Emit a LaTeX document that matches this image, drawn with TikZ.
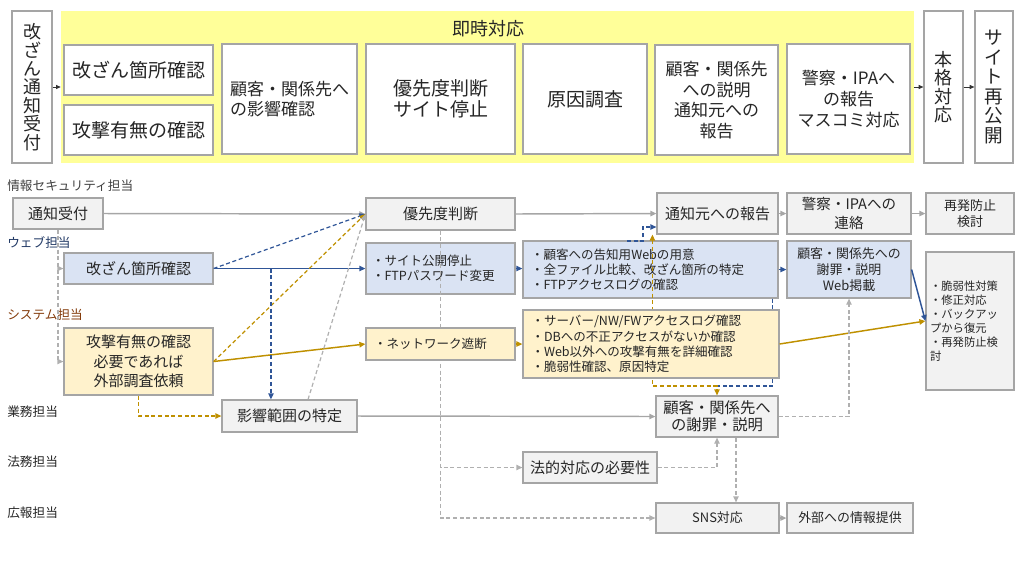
\documentclass[tikz,border=0pt]{standalone}
\usepackage{fontspec}
\newfontfamily\jp{Noto Sans CJK JP}
\usetikzlibrary{arrows.meta}
\definecolor{bordc}{HTML}{A5A5A5}
\definecolor{grayf}{HTML}{F2F2F2}
\definecolor{bluef}{HTML}{DAE3F3}
\definecolor{yelf}{HTML}{FFF2CC}
\definecolor{bandc}{HTML}{FFFF99}
\definecolor{bluel}{HTML}{2F5597}
\definecolor{goldl}{HTML}{BF9000}
\definecolor{grayl}{HTML}{A6A6A6}
\definecolor{grayd}{HTML}{B0B0B0}
\definecolor{txt}{HTML}{262626}
\definecolor{lanenavy}{HTML}{203864}
\definecolor{lanebrown}{HTML}{843C0C}
\definecolor{lanegray}{HTML}{404040}
\begin{document}
\begin{tikzpicture}[x=0.75pt,y=-0.75pt,
  base/.style={inner sep=0pt, align=center, text=txt},
  sz/.style 2 args={minimum width={(#1)*0.75pt}, minimum height={(#2)*0.75pt}},
  bx/.style={base, draw=bordc, line width=0.9pt},
  wbx/.style={bx, fill=white},
  gbx/.style={bx, fill=grayf},
  bbx/.style={bx, fill=bluef},
  ybx/.style={bx, fill=yelf},
  arr/.style={-{Triangle[length=4.5pt,width=4pt]}},
  tarr/.style={draw=black!80, line width=0.6pt, -{Triangle[length=3.5pt,width=3pt]}},
  gline/.style={draw=grayl, line width=1.1pt},
  gdash/.style={draw=grayd, line width=0.9pt, dash pattern=on 3pt off 2pt},
  bline/.style={draw=bluel, line width=1.1pt},
  bdash/.style={draw=bluel, line width=0.9pt, dash pattern=on 3pt off 2pt},
  yline/.style={draw=goldl, line width=1.1pt},
  ydash/.style={draw=goldl, line width=0.9pt, dash pattern=on 3pt off 2pt},
  fband/.style={font={\jp\fontsize{13.5pt}{15pt}\selectfont}},
  fvert/.style={font={\jp\fontsize{13.5pt}{13.8pt}\selectfont}},
  fvertb/.style={font={\jp\fontsize{14pt}{14.7pt}\selectfont}},
  ftop/.style={font={\jp\fontsize{14.25pt}{15.75pt}\selectfont}},
  ftops/.style={font={\jp\fontsize{12.75pt}{15.4pt}\selectfont}},
  fmid/.style={font={\jp\fontsize{11.25pt}{13pt}\selectfont}},
  fkou/.style={font={\jp\fontsize{11.25pt}{14.6pt}\selectfont}},
  fsm/.style={font={\jp\fontsize{9.4pt}{11.4pt}\selectfont}},
  fkei/.style={font={\jp\fontsize{10.9pt}{14.25pt}\selectfont}},
  fsai/.style={font={\jp\fontsize{9.75pt}{12pt}\selectfont}},
  fweb/.style={font={\jp\fontsize{9.7pt}{12pt}\selectfont}},
  fzei/.style={font={\jp\fontsize{8.5pt}{10.6pt}\selectfont}},
  fkok/.style={font={\jp\fontsize{11.5pt}{12.75pt}\selectfont}},
  fsns/.style={font={\jp\fontsize{9.7pt}{11pt}\selectfont}},
  flane/.style={base, anchor=west, font={\jp\fontsize{9.5pt}{11pt}\selectfont}}
]
\path[use as bounding box] (0,0) rectangle (1024,576);

% ---------- top band ----------
\node[inner sep=0pt, fill=bandc, sz={853}{152}] (band) at (487.5,87) {};
\node[base, fband] (bandt) at (488,29) {即時対応};
\node[wbx, fvert, sz={40}{152}] (recv) at (32,87) {改\\ざ\\ん\\通\\知\\受\\付};
\node[wbx, ftop, sz={149}{50}] (t1) at (138.5,70) {改ざん箇所確認};
\node[wbx, ftop, sz={149}{50}] (t2) at (138.5,130) {攻撃有無の確認};
\node[wbx, ftops, sz={135}{110}, align=left] (t3) at (289.5,99) {顧客・関係先へ\\の影響確認};
\node[wbx, ftop, sz={149}{110}] (t4) at (440.5,99) {優先度判断\\サイト停止};
\node[wbx, ftop, sz={124}{110}] (t5) at (585,99) {原因調査};
\node[wbx, ftops, sz={123}{110}] (t6) at (716.5,100) {顧客・関係先\\への説明\\通知元への\\報告};
\node[wbx, ftops, sz={123}{110}] (t7) at (848.5,99) {警察・IPAへ\\の報告\\マスコミ対応};
\node[wbx, fvert, sz={39}{152}] (hon) at (943.5,87) {本\\格\\対\\応};
\node[wbx, fvertb, sz={38}{152}] (sai) at (994,87) {サ\\イ\\ト\\再\\公\\開};
\draw[tarr] (recv.east) -- (band.west);
\draw[tarr] (band.east) -- (hon.west);
\draw[tarr] (hon.east) -- (sai.west);

% ---------- lane labels ----------
\node[flane, text=lanegray] (l1) at (7,186) {情報セキュリティ担当};
\node[flane, text=lanenavy] (l2) at (7,243) {ウェブ担当};
\node[flane, text=lanebrown] (l3) at (7,315) {システム担当};
\node[flane] (l4) at (7,412) {業務担当};
\node[flane] (l5) at (7,462) {法務担当};
\node[flane] (l6) at (7,513) {広報担当};

% ---------- lower nodes ----------
\node[gbx, fmid, sz={90}{31}] (tsu) at (58,213.5) {通知受付};
\node[bbx, fmid, sz={149}{31}] (kai) at (138.5,268.5) {改ざん箇所確認};
\node[ybx, fkou, sz={149}{67}] (kou) at (138.5,361.5) {攻撃有無の確認\\必要であれば\\外部調査依頼};
\node[gbx, fmid, sz={135}{32}] (eik) at (289.5,416) {影響範囲の特定};
\node[gbx, fmid, sz={149}{32}] (yus) at (440.5,214) {優先度判断};
\node[bbx, fsm, sz={149}{51}, align=left, text width=102.75pt] (stop) at (440.5,268.5) {・サイト公開停止\\・FTPパスワード変更};
\node[bbx, fsm, sz={255}{57}, align=left, text width=179.25pt] (kokuchi) at (650.5,269.5) {・顧客への告知用Webの用意\\・全ファイル比較、改ざん箇所の特定\\・FTPアクセスログの確認};
\node[gbx, fmid, sz={121}{41}] (tsm) at (717.5,213.5) {通知元への報告};
\node[gbx, fkei, sz={124}{41}] (kei) at (849,213.5) {警察・IPAへの\\連絡};
\node[gbx, fsai, sz={88}{41}] (rec) at (970,213.5) {再発防止\\検討};
\node[bbx, fweb, sz={124}{57}] (web) at (849,269.5) {顧客・関係先への\\謝罪・説明\\Web掲載};
\node[gbx, fzei, sz={88}{138}, align=left, text width=60pt] (zei) at (970,321) {・脆弱性対策\\・修正対応\\・バックアッ\\プから復元\\・再発防止検\\討};
\node[gbx, fkok, sz={122}{41}] (kok) at (717,416.5) {顧客・関係先へ\\の謝罪・説明};
\node[gbx, fmid, sz={134}{31}] (hou) at (590,467.5) {法的対応の必要性};
\node[gbx, fsns, sz={123}{30}] (sns) at (717.5,518) {SNS対応};
\node[gbx, fsns, sz={126}{30}] (gai) at (850,518) {外部への情報提供};

% ---------- connectors lying under the yellow boxes ----------
\draw[gdash, arr] (yus.south) |- (hou.west);
\draw[gdash, arr] (yus.south) |- (sns.west);
\coordinate (m1) at (717,386);
\draw[bdash] ([xshift=-4.5pt]kokuchi.south east) |- (m1);
\draw[ydash, {Triangle[length=4.5pt,width=4pt]}-{Triangle[length=4.5pt,width=4pt]}] ([xshift=-3pt]tsm.south west) |- (m1) -- (kok.north);

\node[ybx, fsm, sz={149}{32}, align=left, text width=99.75pt] (net) at (440.5,344) {・ネットワーク遮断};
\node[ybx, fsm, sz={256}{68}, align=left, text width=179.25pt] (four) at (651,344) {・サーバー/NW/FWアクセスログ確認\\・DBへの不正アクセスがないか確認\\・Web以外への攻撃有無を詳細確認\\・脆弱性確認、原因特定};

% ---------- remaining connectors ----------
\draw[gline, arr] (tsu.east) -- (yus.west);
\draw[gdash, arr] (tsu.south) |- (kai.west);
\draw[gdash, arr] (tsu.south) |- (kou.west);
\draw[bline, arr] (kai.east) -- (stop.west);
\draw[bdash, arr] (kai.east) -- (yus.west);
\draw[ydash, arr] (kou.east) -- (yus.west);
\draw[yline, arr] (kou.east) -- (net.west);
\draw[gdash, arr] ([xshift=13.9pt]eik.north) -- (yus.west);
\coordinate (e1) at ([xshift=-13.9pt]eik.north);
\draw[bdash, arr] (e1 |- kai.east) -- (e1);
\draw[ydash, arr] (kou.south) |- (eik.west);
\draw[gline, arr] (eik.east) -- (kok.west);
\draw[gline, arr] (yus.east) -- (tsm.west);
\draw[bline, arr] (stop.east) -- (stop.east -| kokuchi.west);
\draw[bline, arr] (kokuchi.east) -- (web.west);
\draw[yline, arr] (net.east) -- (four.west);
\draw[yline, arr] (four.east) -- (zei.west);
\draw[bline, arr] (web.east) -- (zei.west);
\draw[gline, arr] (tsm.east) -- (kei.west);
\draw[gline, arr] (kei.east) -- (rec.west);
\coordinate (b1) at (627,241);
\coordinate (b2) at (643,227);
\draw[bdash, arr] (b1) -| (b2) -- (b2 -| tsm.west);
\draw[gdash, arr] (kok.east) -| (web.south);
\draw[gdash, arr] (hou.east) -| (kok.south);
\coordinate (k1) at ([xshift=14.25pt]kok.south);
\draw[gdash, arr] (k1) -- (k1 |- sns.north);
\draw[gline, arr] (sns.east) -- (gai.west);
\end{tikzpicture}
\end{document}
